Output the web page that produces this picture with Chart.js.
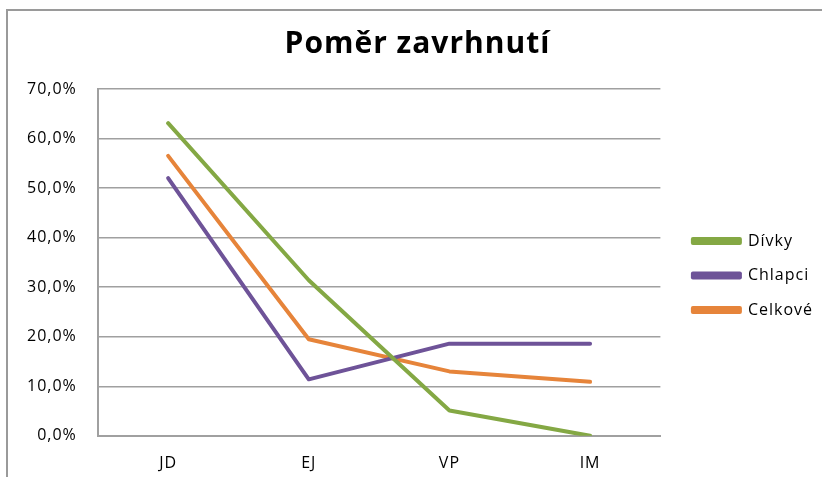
<!DOCTYPE html>
<html>
<head>
<meta charset="utf-8">
<script src="https://cdn.jsdelivr.net/npm/chart.js@4/dist/chart.umd.min.js"></script>
<style>
  html, body { margin: 0; padding: 0; background: #fff; }
  #wrap { position: relative; width: 822px; height: 477px; overflow: hidden; }
  #frame { position: absolute; left: 6px; top: 9px; width: 830px; height: 480px;
           border-top: 2px solid #9a9a9a; border-left: 2px solid #9a9a9a; box-sizing: border-box; }
  canvas { position: absolute; left: 0; top: 0; }
</style>
</head>
<body>
<div id="wrap">
  <div id="frame"></div>
  <canvas id="chart" width="822" height="477"></canvas>
</div>
<script>
// data
const categories = ['JD', 'EJ', 'VP', 'IM'];
const divky = [0.631, 0.314, 0.051, 0.0];
const chlapci = [0.520, 0.114, 0.186, 0.186];
const celkove = [0.565, 0.195, 0.130, 0.109];
const seriesNames = ['Dívky', 'Chlapci', 'Celkové'];
const seriesColors = ['#84A844', '#6E5398', '#E6843A'];

function makeDataset(label, values, color) {
    return {
        label: label,
        data: values,
        borderColor: color,
        backgroundColor: color,
        borderWidth: 4,
        borderCapStyle: 'round',
        borderJoinStyle: 'round',
        pointRadius: 0,
        pointHoverRadius: 0,
        tension: 0
    };
}

// Excel text looks a bit spaced out, canvas has letterSpacing for that
const spacing = {
    id: 'spacing',
    beforeLayout(chart) { chart.ctx.letterSpacing = '1px'; },
    beforeDraw(chart) { chart.ctx.letterSpacing = '1px'; }
};

// move legend and title a little, like in the excel original
const nudge = {
    id: 'nudge',
    afterLayout(chart) {
        const lg = chart.legend;
        lg.left += 14; lg.right += 14;
        lg.top += 30; lg.bottom += 30;
        const tb = chart.titleBlock;
        tb.left += 10; tb.right += 10;
    }
};

const ctx = document.getElementById('chart').getContext('2d');
const myChart = new Chart(ctx, {
    type: 'line',
    data: {
        labels: categories,
        datasets: [
            makeDataset(seriesNames[0], divky, seriesColors[0]),
            makeDataset(seriesNames[1], chlapci, seriesColors[1]),
            makeDataset(seriesNames[2], celkove, seriesColors[2])
        ]
    },
    options: {
        responsive: false,
        animation: false,
        layout: { padding: { left: 6, right: 13, top: 0, bottom: -14 } },
        plugins: {
            tooltip: { enabled: false },
            title: {
                display: true,
                text: 'Poměr zavrhnutí',
                color: '#000',
                font: { family: 'Open Sans', size: 30, weight: 'bold' },
                padding: { top: 26, bottom: 27 }
            },
            legend: {
                position: 'right',
                labels: {
                    color: '#000',
                    font: { family: 'Open Sans', size: 16 },
                    boxWidth: 47,
                    boxHeight: 4,
                    padding: 18.5
                }
            }
        },
        scales: {
            x: {
                offset: true,
                grid: { display: false, drawTicks: false },
                border: { color: '#a0a0a0', width: 2 },
                ticks: { color: '#000', font: { family: 'Open Sans', size: 16 }, padding: 18 }
            },
            y: {
                min: 0,
                max: 0.7,
                grid: { color: '#a0a0a0', lineWidth: 1.5, drawTicks: false },
                border: { color: '#a0a0a0', width: 2 },
                ticks: {
                    stepSize: 0.1,
                    color: '#000',
                    font: { family: 'Open Sans', size: 16 },
                    padding: 21,
                    callback: (v) => (v * 100).toFixed(1).replace('.', ',') + '%'
                }
            }
        }
    },
    plugins: [spacing, nudge]
});
</script>
</body>
</html>
